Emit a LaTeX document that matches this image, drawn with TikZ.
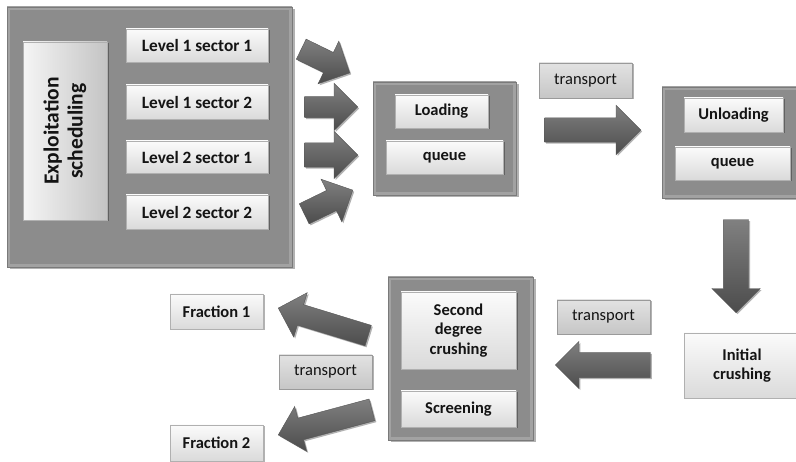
\documentclass[tikz,border=0pt]{standalone}
\usepackage{fontspec}
\setmainfont{Carlito}
\usetikzlibrary{shapes.arrows,shadows}
\definecolor{outerfill}{HTML}{8C8C8C}
\definecolor{bevel}{HTML}{A2A2A2}
\definecolor{outerdraw}{HTML}{7A7A7A}
\definecolor{innertop}{HTML}{FBFBFB}
\definecolor{innerbot}{HTML}{DADADA}
\definecolor{innerdraw}{HTML}{B0B0B0}
\definecolor{lbltop}{HTML}{E2E2E2}
\definecolor{lblbot}{HTML}{C6C6C6}
\definecolor{lbldraw}{HTML}{9A9A9A}
\definecolor{arrtop}{HTML}{808080}
\definecolor{arrbot}{HTML}{4C4C4C}
\definecolor{arrdraw}{HTML}{555555}
\definecolor{txt}{HTML}{141414}
\tikzset{
  outerbox/.style={rectangle, fill=outerfill, draw=outerdraw, line width=0.6pt, outer sep=0pt, inner sep=0pt,
    drop shadow={shadow xshift=2.5pt, shadow yshift=-2.5pt, opacity=0.3, fill=black},
    path picture={\draw[bevel, line width=6pt] (path picture bounding box.south west) rectangle (path picture bounding box.north east);}},
  innerbox/.style={rectangle, top color=innertop, bottom color=innerbot, draw=innerdraw, line width=0.5pt,
    outer sep=0pt, inner sep=1pt, align=center, text=txt, font=\fontsize{16.5}{19.5}\selectfont\bfseries,
    drop shadow={shadow xshift=1.5pt, shadow yshift=-1.5pt, opacity=0.3, fill=black}},
  lblbox/.style={rectangle, top color=lbltop, bottom color=lblbot, draw=lbldraw, line width=0.5pt,
    outer sep=0pt, inner sep=1pt, text=txt, font=\fontsize{16.5}{19.5}\selectfont,
    drop shadow={shadow xshift=1.5pt, shadow yshift=-1.5pt, opacity=0.3, fill=black}},
  levelbox/.style={innerbox, font=\fontsize{17.3}{20}\selectfont\bfseries},
  blockarrow/.style={single arrow, anchor=tip, top color=arrtop, bottom color=arrbot, draw=arrdraw, line width=0.4pt,
    inner xsep=0pt, minimum width=0pt, single arrow head indent=0pt,
    drop shadow={shadow xshift=1.5pt, shadow yshift=-1.5pt, opacity=0.3, fill=black}},
}
\begin{document}
\begin{tikzpicture}[x=1pt,y=-1pt]
\useasboundingbox (0,0) rectangle (796,462);
% --- exploitation block
\node[outerbox, minimum width=285, minimum height=260] (big) at (149.5,137) {};
\node[innerbox, left color=innertop!95!gray, right color=innerbot!90!black, minimum width=84, minimum height=178] (expl) at (65,131) {};
\node[rotate=90, align=center, text=txt, font=\fontsize{21.5}{24}\selectfont\bfseries] (expltxt) at (expl.center) {Exploitation\\scheduling};
\node[levelbox, minimum width=142, minimum height=33] (l11) at (197,45.5) {Level 1 sector 1};
\node[levelbox, minimum width=142, minimum height=34] (l12) at (197,102) {Level 1 sector 2};
\node[levelbox, minimum width=142, minimum height=32] (l21) at (197,157) {Level 2 sector 1};
\node[levelbox, minimum width=142, minimum height=34] (l22) at (197,212) {Level 2 sector 2};
% --- loading
\node[outerbox, minimum width=143, minimum height=113] (load) at (444.5,138.5) {};
\node[innerbox, minimum width=93, minimum height=33] (loading) at (441.5,111.5) {Loading};
\node[innerbox, minimum width=117, minimum height=33] (queue1) at (444.5,157.5) {queue};
% --- unloading
\node[outerbox, minimum width=140, minimum height=111] (unload) at (732,142.5) {};
\node[innerbox, minimum width=99, minimum height=34] (unloading) at (733.5,115) {Unloading};
\node[innerbox, minimum width=115, minimum height=33] (queue2) at (732.5,163.5) {queue};
% --- transport labels
\node[lblbox, minimum width=93, minimum height=35] (t1) at (585.5,80.5) {transport};
\node[lblbox, minimum width=93, minimum height=34] (t2) at (603.5,317) {transport};
\node[lblbox, minimum width=93, minimum height=34] (t3) at (325.5,372) {transport};
% --- initial crushing
\node[innerbox, minimum width=116, minimum height=65] (init) at (742,365.5) {Initial\\crushing};
% --- second degree crushing
\node[outerbox, minimum width=145, minimum height=163] (second) at (460.5,358.5) {};
\node[innerbox, minimum width=115, minimum height=77] (sdc) at (458.5,330.5) {Second\\degree\\crushing};
\node[innerbox, minimum width=115, minimum height=36] (scr) at (458.5,409) {Screening};
% --- fractions
\node[innerbox, minimum width=93, minimum height=35] (f1) at (216.5,311.5) {Fraction 1};
\node[innerbox, minimum width=93, minimum height=36] (f2) at (216.5,443) {Fraction 2};
% --- block arrows
\node[blockarrow, minimum height=54, inner ysep=11pt, single arrow head extend=12.5pt, rotate=-26] (a1) at (350,73) {};
\node[blockarrow, minimum height=53, inner ysep=10.5pt, single arrow head extend=13pt] (a2) at (358,107) {};
\node[blockarrow, minimum height=53, inner ysep=12pt, single arrow head extend=11.5pt] (a3) at (358,155) {};
\node[blockarrow, minimum height=54, inner ysep=11pt, single arrow head extend=12.5pt, rotate=26] (a4) at (353,190) {};
\node[blockarrow, minimum height=96, inner ysep=12pt, single arrow head extend=12.5pt] (at) at (641,130) {};
\node[blockarrow, minimum height=93, inner ysep=12.5pt, single arrow head extend=11.5pt, rotate=-90] (ad) at (736,313) {};
\node[blockarrow, minimum height=95, inner ysep=12.5pt, single arrow head extend=11pt, rotate=180] (al) at (555,365) {};
\node[blockarrow, minimum height=94, inner ysep=10.5pt, single arrow head extend=12.5pt, rotate=163] (af1) at (278,308) {};
\node[blockarrow, minimum height=97, inner ysep=11pt, single arrow head extend=12pt, rotate=195] (af2) at (278,435) {};
\end{tikzpicture}
\end{document}
